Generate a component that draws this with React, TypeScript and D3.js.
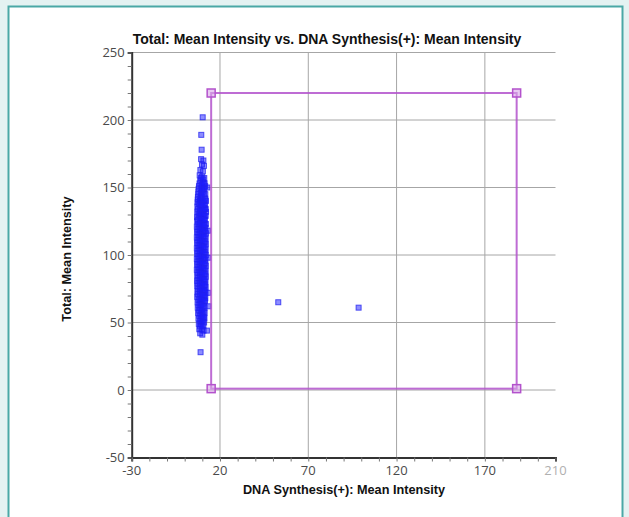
import React, { useEffect, useRef } from 'react';
import * as d3 from 'd3';

// axis ticks
const xTicks = [-30, 20, 70, 120, 170, 210];
const yTicks = [-50, 0, 50, 100, 150, 200, 250];
const xGrid = [20, 70, 120, 170];
const yGrid = [0, 50, 100, 150, 200, 250];

// main cell cloud [DNA Synthesis(+), Total]
const cloudPoints: [number, number][] = [
  [10.2, 202], [9.4, 189], [9.6, 178],
  [9.3, 171], [10.6, 170], [9.8, 167], [10.9, 166], [8.9, 163], [10.3, 162],
  [8.5, 159], [9.9, 158], [11.1, 157], [8.8, 155], [10.2, 154], [11.3, 153],
  [8.1, 151], [9.5, 150], [10.8, 149], [11.6, 151],
  [7.8, 147], [9.1, 146], [10.5, 147], [11.7, 145],
  [7.5, 143], [8.8, 142], [10.1, 143], [11.4, 142],
  [7.3, 139], [8.6, 140], [9.9, 139], [11.2, 138], [12.0, 140],
  [7.2, 136], [8.5, 135], [9.8, 136], [11.1, 135], [11.9, 134],
  [7.1, 132], [8.4, 131], [9.7, 132], [11.0, 131], [12.1, 132],
  [7.0, 128], [8.3, 129], [9.6, 128], [10.9, 127], [11.9, 129],
  [7.1, 125], [8.4, 124], [9.7, 125], [11.0, 124], [12.0, 123],
  [6.9, 121], [8.2, 121], [9.5, 120], [10.8, 121], [11.8, 120],
  [7.0, 117], [8.3, 117], [9.6, 116], [10.9, 117], [12.1, 116],
  [6.9, 113], [8.2, 113], [9.5, 112], [10.8, 113], [11.9, 112],
  [7.0, 109], [8.3, 109], [9.6, 108], [10.9, 109], [12.0, 108],
  [6.9, 105], [8.2, 105], [9.5, 104], [10.8, 105], [11.9, 104],
  [7.0, 101], [8.3, 101], [9.6, 100], [10.9, 101], [12.0, 100],
  [6.9, 97], [8.2, 97], [9.5, 96], [10.8, 97], [11.8, 96],
  [7.0, 93], [8.3, 93], [9.6, 92], [10.9, 93], [12.0, 92],
  [6.9, 89], [8.2, 89], [9.5, 88], [10.8, 89], [11.9, 88],
  [7.1, 85], [8.4, 85], [9.7, 84], [11.0, 85], [12.0, 84],
  [7.0, 81], [8.3, 81], [9.6, 80], [10.9, 81], [11.8, 80],
  [7.1, 77], [8.4, 77], [9.7, 76], [11.0, 77], [11.9, 76],
  [7.2, 73], [8.5, 73], [9.8, 72], [11.1, 73], [11.8, 72],
  [7.1, 69], [8.4, 69], [9.7, 68], [11.0, 69], [11.7, 68],
  [7.3, 65], [8.6, 65], [9.9, 64], [11.2, 65],
  [7.4, 61], [8.7, 61], [10.0, 60], [11.3, 61],
  [7.6, 57], [8.9, 57], [10.2, 56], [11.3, 57],
  [7.8, 53], [9.1, 53], [10.4, 52], [11.2, 53],
  [8.0, 49], [9.3, 49], [10.6, 48],
  [8.3, 45], [9.6, 45], [10.7, 44],
  [8.8, 42], [10.0, 41],
];

// more cells in the dense core, between the rows above
const corePoints: [number, number][] = [
  [9.2, 157], [10.5, 156],
  [8.4, 153], [9.6, 152], [10.9, 153],
  [7.9, 149], [9.8, 148], [11.2, 149],
  [7.7, 145], [9.5, 144], [11.0, 145],
  [7.4, 141], [9.3, 141], [10.7, 140], [11.8, 141],
  [7.9, 138], [9.2, 137], [10.5, 137], [11.6, 137],
  [7.6, 134], [9.0, 133], [10.4, 133], [11.5, 134],
  [7.7, 130], [9.1, 130], [10.3, 130], [11.4, 129],
  [7.5, 126], [9.0, 127], [10.4, 126], [11.5, 126],
  [7.6, 123], [8.9, 123], [10.2, 122], [11.4, 122],
  [7.4, 119], [8.8, 119], [10.2, 118], [11.5, 118],
  [7.6, 115], [8.9, 115], [10.3, 114], [11.4, 114],
  [7.4, 111], [8.8, 111], [10.2, 110], [11.5, 110],
  [7.6, 107], [8.9, 107], [10.3, 106], [11.4, 106],
  [7.4, 103], [8.8, 103], [10.2, 102], [11.5, 102],
  [7.6, 99], [8.9, 99], [10.3, 98], [11.4, 98],
  [7.4, 95], [8.8, 95], [10.2, 94], [11.5, 94],
  [7.6, 91], [8.9, 91], [10.3, 90], [11.4, 90],
  [7.4, 87], [8.8, 87], [10.2, 86], [11.5, 86],
  [7.6, 83], [8.9, 83], [10.3, 82], [11.4, 82],
  [7.4, 79], [8.8, 79], [10.2, 78], [11.5, 78],
  [7.6, 75], [8.9, 75], [10.3, 74], [11.4, 74],
  [7.5, 71], [8.9, 71], [10.3, 70], [11.3, 70],
  [7.8, 67], [9.2, 67], [10.6, 66], [11.5, 66],
  [7.9, 63], [9.3, 63], [10.6, 62],
  [8.1, 59], [9.5, 59], [10.8, 58],
  [8.3, 55], [9.7, 55], [10.9, 54],
  [8.6, 51], [9.9, 51], [11.0, 50],
  [8.7, 47], [10.1, 47],
];

// stray and isolated cells
const strayPoints: [number, number][] = [
  [12.8, 150], [13.2, 118], [13.4, 98], [13.3, 72], [13.5, 62], [12.6, 44],
  [9.0, 28], [53, 65], [98.5, 61],
];

// gate rectangle corners
const gateX = [15, 188];
const gateY = [1, 220];

const App: React.FC = () => {
  const svgRef = useRef<SVGSVGElement>(null);

  useEffect(() => {
    const svg = d3.select(svgRef.current);
    svg.selectAll("*").remove();

    const x = d3.scaleLinear().domain([-30, 210]).range([131.7, 555.5]);
    const y = d3.scaleLinear().domain([-50, 250]).range([457.5, 52.5]);

    // page background + frame
    svg.append("rect").attr("width", 629).attr("height", 517).attr("fill", "#e4f2f2");
    svg.append("rect")
      .attr("x", 8.5).attr("y", 6.5)
      .attr("width", 614).attr("height", 540)
      .attr("fill", "#ffffff")
      .attr("stroke", "#4aa8a6")
      .attr("stroke-width", 2);

    // grid
    const grid = svg.append("g").attr("stroke", "#a6a6a6").attr("stroke-width", 1);
    xGrid.forEach(v => {
      grid.append("line")
        .attr("x1", x(v)).attr("x2", x(v))
        .attr("y1", y(250)).attr("y2", y(-50));
    });
    yGrid.forEach(v => {
      grid.append("line")
        .attr("x1", x(-30)).attr("x2", x(210))
        .attr("y1", y(v)).attr("y2", y(v));
    });

    // axes
    const yAxis = d3.axisLeft(y)
      .tickValues(d3.range(-50, 251, 10))
      .tickSize(4)
      .tickFormat(() => "");
    const yAx = svg.append("g").attr("transform", `translate(${x(-30)},0)`).call(yAxis);
    yAx.select(".domain").attr("stroke", "#333").attr("stroke-width", 2);
    yAx.selectAll(".tick line").attr("stroke", "#777");

    const xAxis = d3.axisBottom(x)
      .tickValues(d3.range(-30, 211, 10))
      .tickSize(4)
      .tickFormat(() => "");
    const xAx = svg.append("g").attr("transform", `translate(0,${y(-50)})`).call(xAxis);
    xAx.select(".domain").attr("stroke", "#333").attr("stroke-width", 2);
    xAx.selectAll(".tick line").attr("stroke", "#777");

    // tick labels
    svg.append("g").selectAll("text")
      .data(yTicks).enter().append("text")
      .attr("x", x(-30) - 7)
      .attr("y", d => y(d))
      .attr("dy", "0.36em")
      .attr("text-anchor", "end")
      .style("font-family", "'Open Sans', sans-serif")
      .style("font-size", "13px")
      .style("fill", "#4a4a4a")
      .text(d => d);

    svg.append("g").selectAll("text")
      .data(xTicks).enter().append("text")
      .attr("x", d => x(d))
      .attr("y", 475)
      .attr("text-anchor", "middle")
      .style("font-family", "'Open Sans', sans-serif")
      .style("font-size", "13px")
      .style("fill", d => (d === 210 ? "#b0b0b0" : "#4a4a4a"))
      .text(d => d);

    // points
    const allPoints = cloudPoints.concat(corePoints, strayPoints);
    const s = 5;
    svg.append("g").selectAll("rect")
      .data(allPoints).enter().append("rect")
      .attr("x", d => x(d[0]) - s / 2)
      .attr("y", d => y(d[1]) - s / 2)
      .attr("width", s).attr("height", s)
      .attr("fill", "#1c1cff")
      .attr("fill-opacity", 0.5)
      .attr("stroke", "#2020f0")
      .attr("stroke-opacity", 0.75)
      .attr("stroke-width", 1);

    // gate
    const gx0 = x(gateX[0]), gx1 = x(gateX[1]);
    const gy0 = y(gateY[0]), gy1 = y(gateY[1]);
    svg.append("rect")
      .attr("x", gx0).attr("y", gy1)
      .attr("width", gx1 - gx0).attr("height", gy0 - gy1)
      .attr("fill", "none")
      .attr("stroke", "#b352cc")
      .attr("stroke-opacity", 0.85)
      .attr("stroke-width", 2);
    const corners = [[gx0, gy0], [gx0, gy1], [gx1, gy0], [gx1, gy1]];
    svg.append("g").selectAll("rect")
      .data(corners).enter().append("rect")
      .attr("x", d => d[0] - 4).attr("y", d => d[1] - 4)
      .attr("width", 8).attr("height", 8)
      .attr("fill", "#d9a6e8")
      .attr("fill-opacity", 0.6)
      .attr("stroke", "#b352cc")
      .attr("stroke-width", 1.5);

    // titles
    svg.append("text")
      .attr("x", 327).attr("y", 44)
      .attr("text-anchor", "middle")
      .style("font-family", "'Liberation Sans', Arial, sans-serif")
      .style("font-weight", "bold")
      .style("font-size", "14px")
      .style("fill", "#111")
      .text("Total: Mean Intensity vs. DNA Synthesis(+): Mean Intensity");

    svg.append("text")
      .attr("x", 344).attr("y", 494)
      .attr("text-anchor", "middle")
      .style("font-family", "'Liberation Sans', Arial, sans-serif")
      .style("font-weight", "bold")
      .style("font-size", "12.7px")
      .style("fill", "#111")
      .text("DNA Synthesis(+): Mean Intensity");

    svg.append("text")
      .attr("transform", `translate(67,259) rotate(-90)`)
      .attr("dy", "0.35em")
      .attr("text-anchor", "middle")
      .style("font-family", "'Liberation Sans', Arial, sans-serif")
      .style("font-weight", "bold")
      .style("font-size", "12.7px")
      .style("fill", "#111")
      .text("Total: Mean Intensity");
  }, []);

  return (
    <svg
      ref={svgRef}
      width={629}
      height={517}
      style={{ position: "fixed", left: 0, top: 0, display: "block" }}
    />
  );
};

export default App;
